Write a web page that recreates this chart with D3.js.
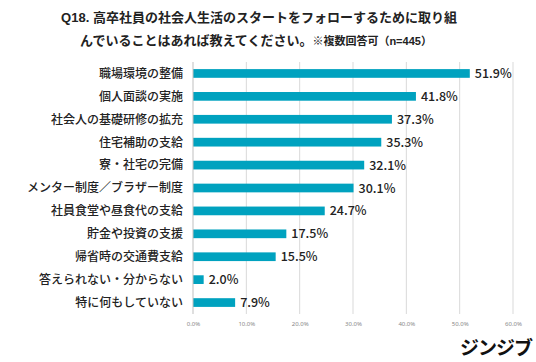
<!DOCTYPE html>
<html>
<head>
<meta charset="utf-8">
<script src="https://cdn.jsdelivr.net/npm/d3@7"></script>
<style>
  body { margin: 0; background: #fff; }
  svg { display: block; font-family: "Noto Sans CJK JP", "Noto Sans", sans-serif; }
</style>
</head>
<body>
<svg width="536" height="362"></svg>
<script>
// Data
const categories = [
    "職場環境の整備",
    "個人面談の実施",
    "社会人の基礎研修の拡充",
    "住宅補助の支給",
    "寮・社宅の完備",
    "メンター制度／ブラザー制度",
    "社員食堂や昼食代の支給",
    "貯金や投資の支援",
    "帰省時の交通費支給",
    "答えられない・分からない",
    "特に何もしていない"
];
const values = [51.9, 41.8, 37.3, 35.3, 32.1, 30.1, 24.7, 17.5, 15.5, 2.0, 7.9];
const ticks = [0, 10, 20, 30, 40, 50, 60];

const svg = d3.select("svg");
const margin = {top: 62, left: 193, right: 23, bottom: 48};
const width = 536 - margin.left - margin.right;
const height = 362 - margin.top - margin.bottom;

// Title
const title = svg.append("g").attr("font-weight", "bold").attr("fill", "#222")
    .attr("text-anchor", "middle")
    .attr("font-family", "'Liberation Sans', 'Noto Sans CJK JP', sans-serif");
title.append("text").attr("x", 259).attr("y", 22).attr("font-size", 13)
    .text("Q18. 高卒社員の社会人生活のスタートをフォローするために取り組");
const t2 = title.append("text").attr("x", 256).attr("y", 45).attr("font-size", 13);
t2.append("tspan").text("んでいることはあれば教えてください。");
t2.append("tspan").attr("font-size", 11).text("※複数回答可（n=445）");

const g = svg.append("g").attr("transform", `translate(${margin.left},${margin.top})`);

const x = d3.scaleLinear().domain([0, 60]).range([0, width]);
const y = d3.scaleBand().domain(categories).range([0, height]).paddingInner(0.62).paddingOuter(0.31);

// Grid lines
g.selectAll(".grid").data(ticks.slice(1)).join("line")
    .attr("x1", d => x(d)).attr("x2", d => x(d))
    .attr("y1", 0).attr("y2", height)
    .attr("stroke", "#d9d9d9").attr("stroke-width", 1);

// X axis (tick labels only)
const xAxis = g.append("g").attr("transform", `translate(0,${height})`)
    .call(d3.axisBottom(x).tickValues(ticks).tickSize(0).tickPadding(8)
        .tickFormat(d => d.toFixed(1) + "%"));
xAxis.select(".domain").remove();
xAxis.selectAll("text").attr("font-size", 6).attr("fill", "#888")
    .attr("font-family", "'Noto Sans', sans-serif");

// Bars
g.selectAll(".bar").data(values).join("rect")
    .attr("x", 0)
    .attr("y", (d, i) => y(categories[i]))
    .attr("width", d => x(d))
    .attr("height", y.bandwidth())
    .attr("fill", "#00a2bf");

// Zero line
g.append("line").attr("x1", 0).attr("x2", 0).attr("y1", 0).attr("y2", height)
    .attr("stroke", "#bfbfbf").attr("stroke-width", 1);

// Value labels
g.selectAll(".val").data(values).join("text")
    .attr("x", d => x(d) + 5)
    .attr("y", (d, i) => y(categories[i]) + y.bandwidth() / 2)
    .attr("dy", "0.36em")
    .attr("font-size", 12.5)
    .attr("font-weight", 500)
    .attr("fill", "#222")
    .text(d => d.toFixed(1) + "%");

// Category labels
g.selectAll(".cat").data(categories).join("text")
    .attr("x", -10)
    .attr("y", d => y(d) + y.bandwidth() / 2)
    .attr("dy", "0.36em")
    .attr("text-anchor", "end")
    .attr("font-size", 12)
    .attr("font-weight", 500)
    .attr("fill", "#222")
    .text(d => d);

// Logo
svg.append("text").attr("x", 532).attr("y", 355)
    .attr("text-anchor", "end")
    .attr("font-size", 19).attr("font-weight", "bold")
    .attr("fill", "#111").attr("letter-spacing", -1)
    .text("ジンジブ");
</script>
</body>
</html>
